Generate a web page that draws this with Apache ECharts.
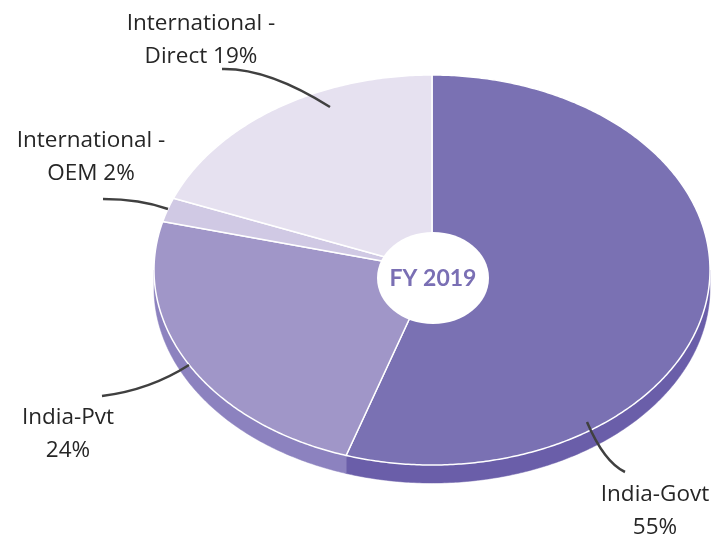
<!DOCTYPE html>
<html>
<head>
<meta charset="utf-8">
<script src="https://cdn.jsdelivr.net/npm/echarts@6/dist/echarts.min.js"></script>
<style>
  html, body { margin: 0; padding: 0; background: #ffffff; }
  #chart { width: 724px; height: 534px; }
</style>
</head>
<body>
<div id="chart"></div>
<script>
// Revenue mix, FY 2019 (share of total, %), clockwise from 12 o'clock
const categories = ['India-Govt', 'India-Pvt', 'International - OEM', 'International - Direct'];
const shares = [55, 24, 2, 19];
const centerTitle = 'FY 2019';

// Slice colours: top face and darker side wall
const topColors = ['#7a71b3', '#a096c8', '#d0c9e4', '#e6e1f0'];
const sideColors = ['#6a5ea9', '#8c82bf', '#b9b0d8', '#d4cde6'];

// Layout of the tilted pie and its centre badge
const PIE = { cx: 432, cy: 270, rx: 278, ry: 195, depth: 18 };
const BADGE = { cx: 433, cy: 278, rx: 56, ry: 46 };
// Label anchors and leader curves [start, control, end]
const LABEL_POS = [
  { x: 655, y: 511, line: [[625, 472], [604, 462], [587, 422]] },
  { x: 68, y: 434, line: [[102, 396], [150, 390], [189, 365]] },
  { x: 91, y: 157, line: [[103, 199], [140, 199], [168, 209]] },
  { x: 201, y: 40, line: [[222, 69], [268, 68], [330, 107]] }
];

function labelText(name, v) {
  const prefix = 'International - ';
  if (name.indexOf(prefix) === 0) {
    return 'International -\n' + name.slice(prefix.length) + ' ' + v + '%';
  }
  return name + '\n' + v + '%';
}

const total = shares.reduce((a, b) => a + b, 0);
const cumStart = [];
shares.reduce((acc, v, i) => { cumStart[i] = acc; return acc + v; }, 0);

function pt(theta, dy) {
  return [PIE.cx + PIE.rx * Math.sin(theta), PIE.cy - PIE.ry * Math.cos(theta) + (dy || 0)];
}
function arc(a, b, dy) {
  const pts = [];
  const n = Math.max(2, Math.ceil((b - a) / 0.01));
  for (let k = 0; k <= n; k++) pts.push(pt(a + (b - a) * k / n, dy));
  return pts;
}

function renderItem(params, api) {
  const i = params.dataIndex;
  const v = api.value(1);
  const a0 = cumStart[i] / total * Math.PI * 2;
  const a1 = (cumStart[i] + v) / total * Math.PI * 2;
  const children = [];

  // side wall for the front (lower) half of the rim
  const s0 = Math.max(a0, Math.PI / 2);
  const s1 = Math.min(a1, Math.PI * 1.5);
  if (s1 > s0) {
    const upper = arc(s0, s1, 0);
    const lower = arc(s0, s1, PIE.depth).reverse();
    children.push({
      type: 'polygon',
      z2: 1,
      shape: { points: upper.concat(lower) },
      style: { fill: sideColors[i], stroke: sideColors[i], lineWidth: 0.5 }
    });
  }

  // top face
  const face = [[PIE.cx, PIE.cy]].concat(arc(a0, a1, 0));
  children.push({
    type: 'polygon',
    z2: 10,
    shape: { points: face },
    style: { fill: topColors[i], stroke: '#ffffff', lineWidth: 1.5, lineJoin: 'round' }
  });

  // leader line and label
  const L = LABEL_POS[i];
  children.push({
    type: 'bezierCurve',
    z2: 20,
    shape: {
      x1: L.line[0][0], y1: L.line[0][1],
      cpx1: L.line[1][0], cpy1: L.line[1][1],
      x2: L.line[2][0], y2: L.line[2][1]
    },
    style: { fill: null, stroke: '#404040', lineWidth: 2.5 }
  });
  children.push({
    type: 'text',
    z2: 20,
    x: L.x,
    y: L.y,
    style: {
      text: labelText(categories[i], v),
      fill: '#262626',
      font: '22.5px "Open Sans"',
      align: 'center',
      verticalAlign: 'middle',
      lineHeight: 33
    }
  });

  // centre badge, drawn once above all slices
  if (i === shares.length - 1) {
    children.push({
      type: 'ellipse',
      z2: 30,
      shape: { cx: BADGE.cx, cy: BADGE.cy, rx: BADGE.rx, ry: BADGE.ry },
      style: { fill: '#ffffff' }
    });
    children.push({
      type: 'text',
      z2: 31,
      x: BADGE.cx,
      y: BADGE.cy + 1,
      style: {
        text: centerTitle,
        fill: '#7a6fb4',
        font: 'bold 23px Lato',
        align: 'center',
        verticalAlign: 'middle'
      }
    });
  }
  return { type: 'group', children: children };
}

const chart = echarts.init(document.getElementById('chart'), null, { renderer: 'canvas' });
chart.setOption({
  backgroundColor: '#ffffff',
  animation: false,
  series: [{
    type: 'custom',
    coordinateSystem: 'none',
    dimensions: ['idx', 'share'],
    data: shares.map((v, i) => [i, v]),
    renderItem: renderItem
  }]
});
</script>
</body>
</html>
